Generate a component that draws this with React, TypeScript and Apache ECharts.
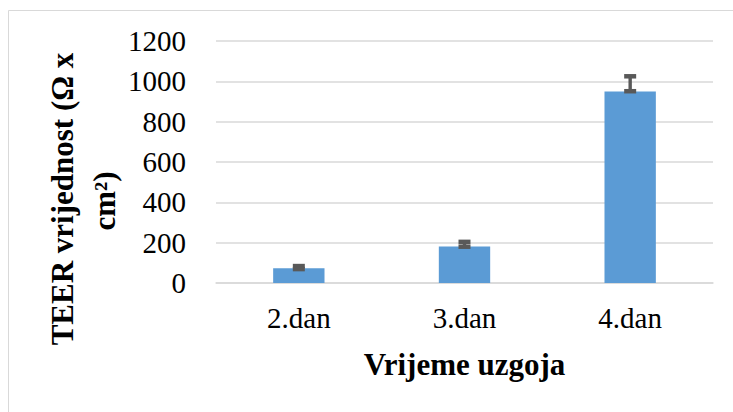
import React, { useEffect, useRef } from "react";
import * as echarts from "echarts";

const categories = ["2.dan", "3.dan", "4.dan"];
const values = [73, 181, 949];
const errLow = [69, 180, 951];
const errHigh = [84, 204, 1025];
const yTicks = [0, 200, 400, 600, 800, 1000, 1200];

const FONT = "Liberation Serif";

export default function App() {
  const ref = useRef<HTMLDivElement>(null);
  useEffect(() => {
    if (!ref.current) return;
    const chart = echarts.init(ref.current, null, { renderer: "svg" });
    const errData = categories.map((_, i) => [i, errLow[i], errHigh[i]]);
    chart.setOption({
      animation: false,
      backgroundColor: "#ffffff",
      textStyle: { fontFamily: FONT },
      grid: { left: 216, right: 20, top: 41, bottom: 129 },
      xAxis: {
        type: "category",
        data: categories,
        axisLine: { show: true, lineStyle: { color: "#d9d9d9", width: 1.5 } },
        axisTick: { show: false },
        axisLabel: { color: "#000", fontFamily: FONT, fontSize: 29, margin: 20 },
        name: "Vrijeme uzgoja",
        nameLocation: "middle",
        nameGap: 66,
        nameTextStyle: { color: "#000", fontFamily: FONT, fontSize: 31, fontWeight: "bold" },
      },
      yAxis: {
        type: "value",
        min: yTicks[0],
        max: yTicks[yTicks.length - 1],
        interval: yTicks[1] - yTicks[0],
        axisLine: { show: false },
        axisTick: { show: false },
        splitLine: { lineStyle: { color: "#d9d9d9", width: 1.5 } },
        axisLabel: {
          color: "#000",
          fontFamily: FONT,
          fontSize: 29,
          margin: 30,
          formatter: (v: number) => String(v),
        },
      },
      graphic: [
        {
          type: "rect",
          shape: { x: 8.5, y: 10.5, width: 800, height: 500 },
          style: { fill: "none", stroke: "#d9d9d9", lineWidth: 1 },
          silent: true,
        },
        {
          type: "text",
          x: 62,
          y: 199,
          rotation: Math.PI / 2,
          style: {
            text: "TEER vrijednost (Ω x",
            fontFamily: FONT,
            fontSize: 31,
            fontWeight: "bold",
            fill: "#000",
            align: "center",
            verticalAlign: "middle",
          },
        },
        {
          type: "text",
          x: 104,
          y: 201,
          rotation: Math.PI / 2,
          style: {
            text: "cm²)",
            fontFamily: FONT,
            fontSize: 31,
            fontWeight: "bold",
            fill: "#000",
            align: "center",
            verticalAlign: "middle",
          },
        },
      ],
      series: [
        {
          type: "bar",
          data: values,
          barWidth: "31%",
          itemStyle: { color: "#5b9bd5" },
        },
        {
          type: "custom",
          data: errData,
          z: 10,
          renderItem: (params: any, api: any) => {
            const i = api.value(0);
            const lo = api.coord([i, api.value(1)]);
            const hi = api.coord([i, api.value(2)]);
            const capW = 12;
            const capH = 4.5;
            const color = "#595959";
            return {
              type: "group",
              children: [
                {
                  type: "rect",
                  shape: { x: lo[0] - 1.7, y: hi[1], width: 3.4, height: lo[1] - hi[1] },
                  style: { fill: color },
                },
                {
                  type: "rect",
                  shape: { x: hi[0] - capW / 2, y: hi[1] - capH / 2, width: capW, height: capH },
                  style: { fill: color },
                },
                {
                  type: "rect",
                  shape: { x: lo[0] - capW / 2, y: lo[1] - capH / 2, width: capW, height: capH },
                  style: { fill: color },
                },
              ],
            };
          },
        },
      ],
    });
    return () => chart.dispose();
  }, []);
  return (
    <div
      ref={ref}
      style={{ position: "fixed", left: 0, top: 0, width: 733, height: 412 }}
    />
  );
}
